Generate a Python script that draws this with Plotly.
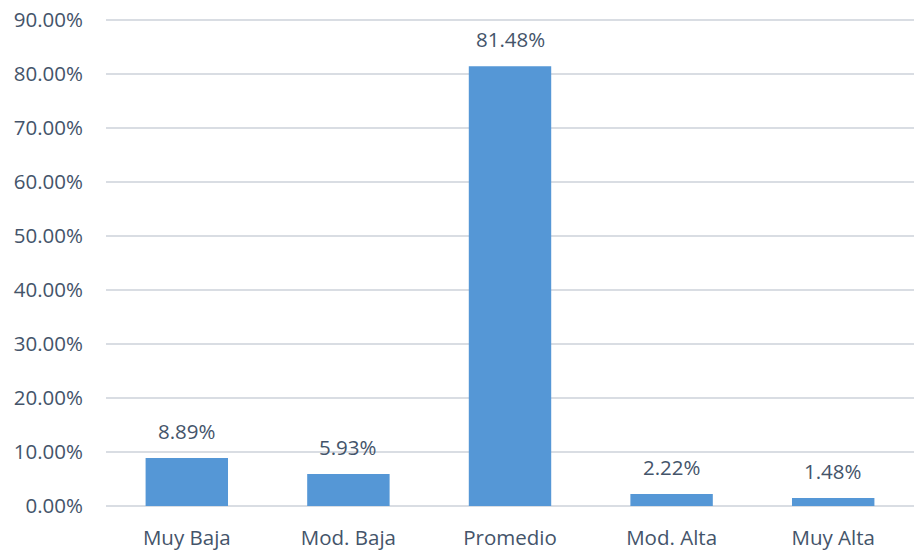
import plotly.graph_objects as go

categorias = ["Muy Baja", "Mod. Baja", "Promedio", "Mod. Alta", "Muy Alta"]
porcentajes = [8.89, 5.93, 81.48, 2.22, 1.48]
etiquetas = ["8.89%", "5.93%", "81.48%", "2.22%", "1.48%"]
ticks_y = [0, 10, 20, 30, 40, 50, 60, 70, 80, 90]
ticks_y_txt = ["0.00%", "10.00%", "20.00%", "30.00%", "40.00%",
               "50.00%", "60.00%", "70.00%", "80.00%", "90.00%"]

texto = "#44546A"

fig = go.Figure()
fig.add_trace(go.Bar(
    x=categorias,
    y=porcentajes,
    marker=dict(color="#5597D6", line=dict(width=0)),
    width=0.51,
))

# etiquetas de datos encima de cada barra
for c, v, t in zip(categorias, porcentajes, etiquetas):
    fig.add_annotation(x=c, y=v, text=t, showarrow=False, yanchor="bottom",
                       yshift=11, font=dict(size=20.5, color=texto))

fig.update_layout(
    width=914, height=550,
    margin=dict(l=106, r=0, t=18, b=44),
    plot_bgcolor="white", paper_bgcolor="white",
    font=dict(family="Open Sans", size=20.5, color=texto),
    showlegend=False,
    xaxis=dict(showgrid=False, showline=False, ticks="", automargin=False,
               ticklabelstandoff=17),
    yaxis=dict(range=[0, 90.4], tickvals=ticks_y, ticktext=ticks_y_txt,
               showgrid=True, gridcolor="#D9DDE3", gridwidth=1.5,
               zeroline=True, zerolinecolor="#D9DDE3", zerolinewidth=1.5,
               showline=False, ticks="", automargin=False,
               ticklabelstandoff=22),
)

# quitar el margen por defecto del body para que el grafico quede en (0,0)
fig.write_html("out.html", config={"displayModeBar": False},
               post_script="document.body.style.margin='0';")
